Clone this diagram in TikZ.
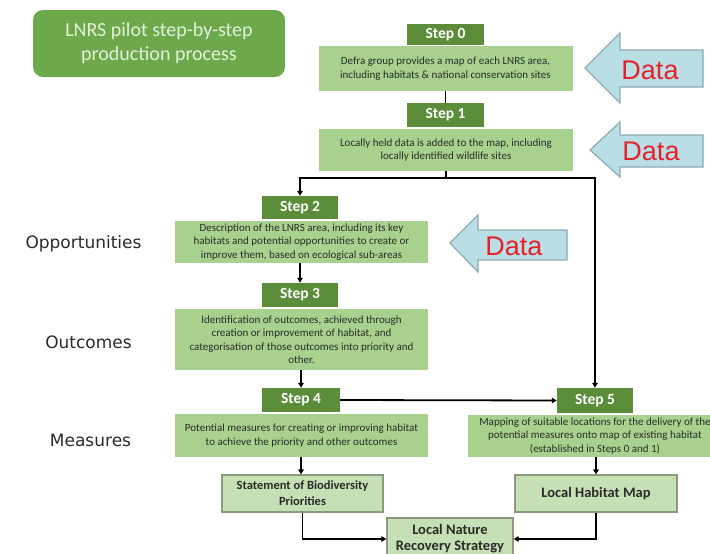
\documentclass[tikz,border=0pt]{standalone}
\usepackage{fontspec}
\setmainfont{Carlito}
\newfontfamily\lblfont{DejaVu Sans}
\newfontfamily\datafont{Liberation Sans}
\usetikzlibrary{arrows.meta}
\definecolor{hdrgreen}{HTML}{5B8C3A}
\definecolor{boxgreen}{HTML}{A9D18E}
\definecolor{titlegreen}{HTML}{6DA94A}
\definecolor{titletext}{HTML}{E4F0DA}
\definecolor{outgreen}{HTML}{C5E0B4}
\definecolor{outborder}{HTML}{8A9A80}
\definecolor{datafill}{HTML}{B9DEE6}
\definecolor{databorder}{HTML}{8FAAB0}
\definecolor{datared}{HTML}{E8202A}
\definecolor{txtdark}{HTML}{2A2A2A}
\tikzset{
  hdr/.style={fill=hdrgreen, text=white, inner sep=0pt, minimum width=77pt, minimum height=23pt,
    font=\fontsize{15.5}{17}\selectfont\bfseries},
  stepbox/.style={fill=boxgreen, text=txtdark, inner sep=0pt, minimum width=254pt, align=center,
    font=\fontsize{11}{13.5}\selectfont},
  outbox/.style={fill=outgreen, draw=outborder, line width=1.2pt, text=txtdark, inner sep=0pt, align=center,
    minimum height=37pt, font=\fontsize{14.5}{16}\selectfont\bfseries},
  sidelbl/.style={text=txtdark, font=\lblfont\fontsize{17}{19}\selectfont, inner sep=0pt},
  datatxt/.style={text=datared, font=\datafont\fontsize{27}{29}\selectfont, inner sep=0pt},
  dataarrow/.style={fill=datafill, draw=databorder, line width=1.2pt, line join=miter},
  conn/.style={draw=black, line width=1.8pt},
  arr/.style={conn, -{Triangle[length=5pt,width=5.5pt]}},
}
\begin{document}
\begin{tikzpicture}[x=1pt,y=-1pt]
\useasboundingbox (0,0) rectangle (710,554);
\fill[white] (0,0) rectangle (710,554);

% title
\node[fill=titlegreen, rounded corners=10pt, minimum width=252pt, minimum height=67pt, inner sep=0pt,
  text=titletext, align=center, font=\fontsize{20}{24}\selectfont] (title) at (159,43.5)
  {LNRS pilot step-by-step\\production process};

% steps
\node[hdr, minimum height=21pt] (h0) at (445.5,34.5) {Step 0};
\node[stepbox, minimum height=45pt] (b0) at (445.5,68.5)
  {Defra group provides a map of each LNRS area,\\including habitats \& national conservation sites};
\node[hdr, minimum height=24pt] (h1) at (445.5,115) {Step 1};
\node[stepbox, minimum height=42pt] (b1) at (446,150)
  {Locally held data is added to the map, including\\locally identified wildlife sites};
\node[hdr, minimum width=76pt] (h2) at (300,207.5) {Step 2};
\node[stepbox, minimum width=253pt, minimum height=42pt] (b2) at (301.5,242)
  {Description of the LNRS area, including its key\\habitats and potential opportunities to create or\\improve them, based on ecological sub-areas};
\node[hdr, minimum width=76pt, minimum height=24pt] (h3) at (300,295) {Step 3};
\node[stepbox, minimum width=253pt, minimum height=61pt] (b3) at (301.5,339.5)
  {Identification of outcomes, achieved through\\creation or improvement of habitat, and\\categorisation of those outcomes into priority and\\other.};
\node[hdr, minimum width=78pt, minimum height=24pt] (h4) at (301,400) {Step 4};
\node[stepbox, minimum width=253pt, minimum height=43pt] (b4) at (301.5,435.5)
  {Potential measures for creating or improving habitat\\to achieve the priority and other outcomes};
\node[hdr, minimum width=76pt, minimum height=25pt] (h5) at (595,400.5) {Step 5};
\node[stepbox, minimum height=42pt] (b5) at (595,436)
  {Mapping of suitable locations for the delivery of the\\potential measures onto map of existing habitat\\(established in Steps 0 and 1)};

% outputs
\node[outbox, minimum width=161pt, font=\fontsize{12.5}{16}\selectfont\bfseries] (sbp) at (302.5,493.5)
  {Statement of Biodiversity\\Priorities};
\node[outbox, minimum width=162pt] (lhm) at (596,493.5) {Local Habitat Map};
\node[outbox, minimum width=126pt, minimum height=42pt] (lnrs) at (450,539)
  {Local Nature\\Recovery Strategy};

% side labels
\node[sidelbl] (opp) at (83.5,244) {Opportunities};
\node[sidelbl] (outc) at (88.5,342) {Outcomes};
\node[sidelbl] (meas) at (90.5,440) {Measures};

% data arrows
\draw[dataarrow] (585,68) -- (620,33) -- (620,50) -- (703,50) -- (703,87) -- (620,87) -- (620,103) -- cycle;
\node[datatxt] (d0) at (650,70) {Data};
\draw[dataarrow] (590,150) -- (620,122) -- (620,135) -- (703,135) -- (703,167) -- (620,167) -- (620,177) -- cycle;
\node[datatxt] (d1) at (651,151) {Data};
\draw[dataarrow] (450,243) -- (478,215) -- (478,230) -- (567,230) -- (567,260) -- (478,260) -- (478,272) -- cycle;
\node[datatxt] (d2) at (514,246) {Data};

% connectors
\coordinate (split) at (446,178);
\draw[conn] (b0.south) -- (h1.north);
\draw[conn] (b1.south) -- (split);
\draw[arr] (split) -| (h2.north);
\draw[arr] (split) -| (h5.north);
\draw[arr] (b2.south -| h3.north) -- (h3.north);
\draw[arr] (b3.south -| h4.north) -- (h4.north);
\draw[arr] (h4.east) -- (h5.west);
\draw[arr] (b4.south -| h4.south) -- (h4.south |- sbp.north);
\draw[arr] (b5.south -| lhm.north) -- (lhm.north);
\draw[arr] (sbp.south) |- (lnrs.west);
\draw[arr] (lhm.south) |- (lnrs.east);
\end{tikzpicture}
\end{document}
